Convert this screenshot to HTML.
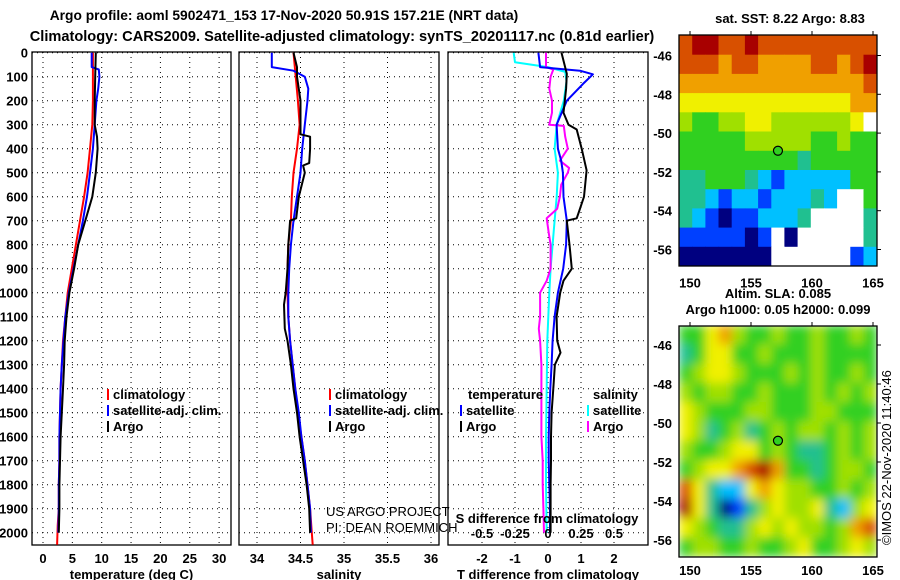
<!DOCTYPE html>
<html><head><meta charset="utf-8"><style>
body{margin:0;background:#fff;}
svg{display:block;font-family:"Liberation Sans",sans-serif;}
text{font-weight:bold;font-size:13px;fill:#000;}
</style></head><body>
<svg id="chart" width="900" height="580" viewBox="0 0 900 580" xmlns="http://www.w3.org/2000/svg">
<defs>
<filter id="blur" x="0" y="0" width="1" height="1"><feGaussianBlur stdDeviation="5" edgeMode="duplicate"/></filter>
<clipPath id="clip2"><rect x="679" y="326" width="198" height="231"/></clipPath>
</defs>
<text x="284" y="20" text-anchor="middle" style="font-size:13.8px">Argo profile: aoml 5902471_153 17-Nov-2020 50.91S 157.21E (NRT data)</text>
<text x="342" y="41" text-anchor="middle" style="font-size:14.6px">Climatology: CARS2009. Satellite-adjusted climatology: synTS_20201117.nc (0.81d earlier)</text>
<g id="g"></g>
</svg>
<script>
// ---- data ----
const tDepthRed=[0,100,200,300,400,500,600,700,800,900,1000,1100,1200,1300,1400,1500,1600,1700,1800,1900,1970,2050];
const tClim=[8.5,8.5,8.5,8.4,8.0,7.6,7.0,6.3,5.6,4.9,4.2,3.8,3.4,3.2,3.0,2.9,2.8,2.8,2.7,2.7,2.5,2.4];
const tDepthBlue=[0,60,70,100,150,200,300,400,500,600,700,800,900,1000,1100,1200,1300,1400,1500,1600,1700,1800,1900,2000];
const tSat=[8.3,8.3,9.5,9.6,9.4,9.1,8.8,8.5,8.0,7.5,6.8,6.0,5.2,4.4,3.8,3.5,3.2,3.0,2.9,2.8,2.8,2.7,2.7,2.6];
const tDepthArgo=[0,100,200,300,350,400,500,600,700,800,900,1000,1100,1200,1300,1400,1500,1600,1700,1800,1900,2000];
const tArgo=[9.0,8.9,8.8,8.8,9.2,9.3,9.0,8.4,7.2,6.0,5.3,4.5,4.0,3.7,3.6,3.4,3.2,3.0,2.9,2.8,2.8,2.7];
const sDepthRed=[0,200,300,400,500,600,700,800,900,1000,1100,1200,1300,1400,1500,1600,1700,1800,1900,2000,2050];
const sClim=[34.42,34.47,34.49,34.46,34.42,34.40,34.39,34.36,34.35,34.35,34.36,34.38,34.41,34.44,34.47,34.51,34.55,34.58,34.61,34.63,34.64];
const sDepthBlue=[0,60,75,100,150,200,300,400,500,600,700,800,900,1000,1100,1200,1300,1400,1500,1600,1700,1800,1900,2000];
const sSat=[34.17,34.17,34.42,34.55,34.59,34.58,34.55,34.52,34.50,34.46,34.42,34.39,34.37,34.36,34.36,34.38,34.41,34.44,34.48,34.51,34.55,34.58,34.61,34.62];
const sDepthArgo=[0,60,100,200,340,350,400,460,470,500,600,690,700,800,900,1000,1050,1150,1200,1300,1400,1500,1600,1700,1800,1900,2000];
const sArgo=[34.42,34.46,34.46,34.50,34.50,34.61,34.61,34.60,34.53,34.55,34.48,34.45,34.38,34.36,34.35,34.33,34.31,34.32,34.35,34.39,34.42,34.46,34.49,34.53,34.57,34.60,34.61];
const dtDepthSat=[0,60,75,90,130,200,300,400,450,500,600,700,800,900,1000,1100,1200,1300,1400,1500,1600,1700,1800,1900,2000];
const dtSat=[-0.29,-0.24,0.97,1.36,1.06,0.57,0.26,0.30,0.40,0.45,0.47,0.57,0.55,0.46,0.30,0.20,0.14,0.11,0.07,0.04,0.02,0.02,0.04,0.06,0.06];
const dtDepthArgo=[0,88,150,250,300,320,400,490,600,650,690,700,800,900,950,1000,1100,1200,1250,1300,1400,1500,1600,1700,1800,1900,2000];
const dtArgo=[0.41,0.57,0.55,0.47,0.62,0.87,1.02,1.17,1.09,0.97,0.87,0.57,0.65,0.72,0.47,0.37,0.26,0.28,0.38,0.21,0.16,0.11,0.09,0.09,0.08,0.08,0.08];
const dsDepthSat=[0,40,60,80,120,200,300,400,500,600,700,800,900,1000,1200,1400,1600,1800,2000];
const dsSat=[-0.26,-0.25,0.0,0.13,0.14,0.12,0.066,0.05,0.075,0.066,0.05,0.035,0.02,0.01,-0.005,-0.01,-0.015,-0.015,-0.01];
const dsDepthArgo=[0,60,70,100,150,200,250,300,305,350,400,450,480,500,550,600,650,690,750,800,900,950,1000,1100,1150,1200,1300,1400,1500,1600,1700,1800,1900,2000];
const dsArgo=[-0.015,-0.015,0.04,0.02,0.01,0.03,0.03,0.01,0.12,0.13,0.15,0.09,0.16,0.15,0.10,0.09,0.07,-0.01,0.005,0.02,0.02,-0.01,-0.06,-0.06,-0.07,-0.06,-0.05,-0.05,-0.05,-0.05,-0.04,-0.04,-0.035,-0.03];
const depthTicks=[0,100,200,300,400,500,600,700,800,900,1000,1100,1200,1300,1400,1500,1600,1700,1800,1900,2000];
const tempTicks=[0,5,10,15,20,25,30];
const salTicks=[34,34.5,35,35.5,36];
const salTickLabels=["34","34.5","35","35.5","36"];
const dtTicks=[-2,-1,0,1,2];
const dsTicks=[-0.5,-0.25,0,0.25,0.5];
const dsTickLabels=["-0.5","-0.25","0","0.25","0.5"];
const lonTicks=[150,155,160,165];
const latTicks=[-46,-48,-50,-52,-54,-56];
const sstGrid=[
[8,9,9,8,8,9,8,8,8,8,8,8,8,8,8],
[8,8,8,7,8,8,7,7,7,7,8,8,7,8,9],
[7,7,7,7,7,7,7,7,7,7,7,7,7,7,8],
[6,6,6,6,6,6,6,6,6,6,6,6,6,7,7],
[5,4,4,5,5,6,6,5,5,5,5,5,5,6,-1],
[4,4,4,4,4,5,5,5,5,5,4,4,5,4,4],
[4,4,4,4,4,4,4,4,4,3,4,4,4,4,4],
[3,3,4,4,4,3,2,1,2,2,2,2,2,4,4],
[3,3,2,1,2,2,1,2,2,2,3,2,-1,-1,4],
[3,2,1,0,1,1,2,2,2,3,-1,-1,-1,-1,3],
[1,1,1,1,1,0,1,-1,0,-1,-1,-1,-1,-1,3],
[0,0,0,0,0,0,0,-1,-1,-1,-1,-1,-1,1,2]];
const slaGrid=[
[4,4,6,7,5,4,4,5,4,4,5,4,4,5,4],
[3,4,6,6,4,4,5,4,4,4,5,4,4,4,4],
[4,5,6,6,5,4,4,4,5,4,5,4,4,5,4],
[5,4,5,5,4,4,5,4,4,4,5,4,5,4,5],
[6,5,4,4,4,5,5,4,4,4,5,5,4,4,4],
[6,5,3,4,5,3,4,5,4,5,5,4,5,4,5],
[5,4,4,5,6,6,4,5,4,3,3,4,5,4,5],
[4,5,6,6,7,8,9,7,4,4,3,4,5,5,4],
[8,6,3,2,2,6,7,6,5,5,4,4,5,4,5],
[9,6,3,0,1,3,5,6,5,5,6,3,2,5,6],
[6,5,4,3,3,5,6,5,6,5,5,4,5,7,8],
[4,5,5,4,4,5,4,4,5,6,4,4,5,6,5]];
const argoLon=157.21, argoLat=-50.91;
const colors=["#000080","#0040ff","#00c0ff","#20c090","#30d020","#a0e000","#f0f000","#f0a000","#d85000","#a80000"];

// ---- drawing ----
const NS="http://www.w3.org/2000/svg";
const G=document.getElementById('g');
function el(tag,attrs,parent){const e=document.createElementNS(NS,tag);for(const k in attrs)e.setAttribute(k,attrs[k]);(parent||G).appendChild(e);return e;}
const yD=d=>52.7+d*0.24;
const yTop=52,yBot=545;
function panel(x0,x1,xs,ticks,labels,title,name){
  const p=el('g',{});
  
  
  ticks.forEach(t=>{const l=el('line',{x1:xs(t),x2:xs(t),y1:yTop,y2:yBot,stroke:'#000','stroke-width':1,'stroke-dasharray':'1,4'},p);
    });
  depthTicks.forEach(d=>{const l=el('line',{x1:x0,x2:x1,y1:yD(d),y2:yD(d),stroke:'#000','stroke-width':1,'stroke-dasharray':'1,4'},p);
    });
  const r=el('rect',{x:x0,y:yTop,width:x1-x0,height:yBot-yTop,fill:'none',stroke:'#000','stroke-width':1.3},p);
  
  ticks.forEach((t,i)=>{const tx=el('text',{x:xs(t),y:563,'text-anchor':'middle'},p);tx.textContent=labels[i];
    });
  const at=el('text',{x:(x0+x1)/2,y:579,'text-anchor':'middle'},p);at.textContent=title;
  
  return p;
}
function line(xs,depths,vals,color,name,p){
  const pts=depths.map((d,i)=>xs(vals[i]).toFixed(1)+','+yD(d).toFixed(1)).join(' ');
  const l=el('polyline',{points:pts,fill:'none',stroke:color,'stroke-width':2,'stroke-linejoin':'round'},p);
  
  
}
function legend(x,y,color,label,name,p){
  const m=el('rect',{x:x,y:y-10,width:2,height:11,fill:color},p);
  
  const t=el('text',{x:x+6,y:y},p);t.textContent=label;
  
}
depthTicks.forEach(d=>{const t=el('text',{x:28,y:yD(d)+5,'text-anchor':'end'});t.textContent=d;
  });
const xT=v=>43+v*5.87;
const p1=panel(32,231,xT,tempTicks,tempTicks.map(String),'temperature (deg C)','temperature-panel');
line(xT,tDepthRed,tClim,'#f00','temp-climatology-line',p1);
line(xT,tDepthBlue,tSat,'#00f','temp-satellite-line',p1);
line(xT,tDepthArgo,tArgo,'#000','temp-argo-line',p1);
legend(107,399,'#f00','climatology','legend-climatology',p1);
legend(107,415,'#00f','satellite-adj. clim.','legend-satellite-adj',p1);
legend(107,431,'#000','Argo','legend-argo',p1);
const xS=v=>257+(v-34)*87;
const p2=panel(239,439,xS,salTicks,salTickLabels,'salinity','salinity-panel');
line(xS,sDepthRed,sClim,'#f00','sal-climatology-line',p2);
line(xS,sDepthBlue,sSat,'#00f','sal-satellite-line',p2);
line(xS,sDepthArgo,sArgo,'#000','sal-argo-line',p2);
legend(329,399,'#f00','climatology','legend-climatology',p2);
legend(329,415,'#00f','satellite-adj. clim.','legend-satellite-adj',p2);
legend(329,431,'#000','Argo','legend-argo',p2);
[['US ARGO PROJECT',516],['PI: DEAN ROEMMICH',532]].forEach(a=>{const t=el('text',{x:326,y:a[1],style:'font-weight:normal;font-size:13px'},p2);t.textContent=a[0];
  });
const xDT=v=>548+v*33;
const xDS=v=>548+v*132;
const p3=panel(448,648,xDT,dtTicks,dtTicks.map(String),'T difference from climatology','difference-panel');
line(xDS,dsDepthSat,dsSat,'#0ff','sdiff-satellite-line',p3);
line(xDS,dsDepthArgo,dsArgo,'#f0f','sdiff-argo-line',p3);
line(xDT,dtDepthSat,dtSat,'#00f','tdiff-satellite-line',p3);
line(xDT,dtDepthArgo,dtArgo,'#000','tdiff-argo-line',p3);
dsTicks.forEach((v,i)=>{const t=el('text',{x:xDS(v),y:538,'text-anchor':'middle'},p3);t.textContent=dsTickLabels[i];
  });
{const t=el('text',{x:547,y:523,'text-anchor':'middle'},p3);t.textContent='S difference from climatology';
 }
{const t=el('text',{x:468,y:399},p3);t.textContent='temperature';}
{const t=el('text',{x:593,y:399},p3);t.textContent='salinity';}
legend(460,415,'#00f','satellite','legend-t-satellite',p3);
legend(460,431,'#000','Argo','legend-t-argo',p3);
legend(587,415,'#0ff','satellite','legend-s-satellite',p3);
legend(587,431,'#f0f','Argo','legend-s-argo',p3);
function map(x0,y0,w,h,lat46,lat56,grid,name,smooth,lonOff){
  const lonX=v=>690+(v-150)*12.2;
  const latY=v=>lat46+(v+46)*(lat56-lat46)/(-10);
  const g=el('g',{});
  const cells=el('g',smooth?{filter:'url(#blur)','clip-path':'url(#clip2)'}:{},g);
  const rows=grid.length,cols=grid[0].length;
  const lonStep=(165.3-149.1)/cols,latStep=(44.97-56.85)/rows;
  grid.forEach((row,r)=>row.forEach((v,c)=>{
    const xa=lonX(149.1+c*lonStep),xb=lonX(149.1+(c+1)*lonStep);
    const ya=latY(-44.97+r*latStep),yb=latY(-44.97+(r+1)*latStep);
    const rc=el('rect',{x:xa.toFixed(1),y:ya.toFixed(1),width:(xb-xa+0.5).toFixed(1),height:(yb-ya+0.5).toFixed(1),fill:v<0?'#fff':colors[v]},cells);
    
  }));
  const fr=el('rect',{x:x0,y:y0,width:w,height:h,fill:'none',stroke:'#000','stroke-width':1.3},g);
  
  latTicks.forEach(v=>{const t=el('text',{x:x0-7,y:latY(v)+5,'text-anchor':'end'},g);t.textContent=v;
    
    el('line',{x1:x0+w,x2:x0+w+4,y1:latY(v),y2:latY(v),stroke:'#000'},g);});
  lonTicks.forEach(v=>{const t=el('text',{x:lonX(v),y:y0+h+lonOff,'text-anchor':'middle'},g);t.textContent=v;
    
    el('line',{x1:lonX(v),x2:lonX(v),y1:y0,y2:y0-4,stroke:'#000'},g);});
  const c=el('circle',{cx:lonX(argoLon),cy:latY(argoLat),r:4.5,fill:'#30d020',stroke:'#000','stroke-width':1.2},g);
  
}
map(679,35,198,231,55.5,249.5,sstGrid,'sst-map',false,21.5);
{const t=el('text',{x:790,y:23,'text-anchor':'middle'});t.textContent='sat. SST: 8.22 Argo: 8.83';}
map(679,326,198,231,345,540,slaGrid,'sla-map',true,18);
{const t=el('text',{x:778,y:298,'text-anchor':'middle'});t.textContent='Altim. SLA: 0.085';}
{const t=el('text',{x:778,y:314,'text-anchor':'middle'});t.textContent='Argo h1000: 0.05 h2000: 0.099';}
{const t=el('text',{x:0,y:0,style:'font-weight:normal;font-size:13px',transform:'translate(891,545) rotate(-90)'});t.textContent='©IMOS 22-Nov-2020 11:40:46';}
</script>
</body></html>
